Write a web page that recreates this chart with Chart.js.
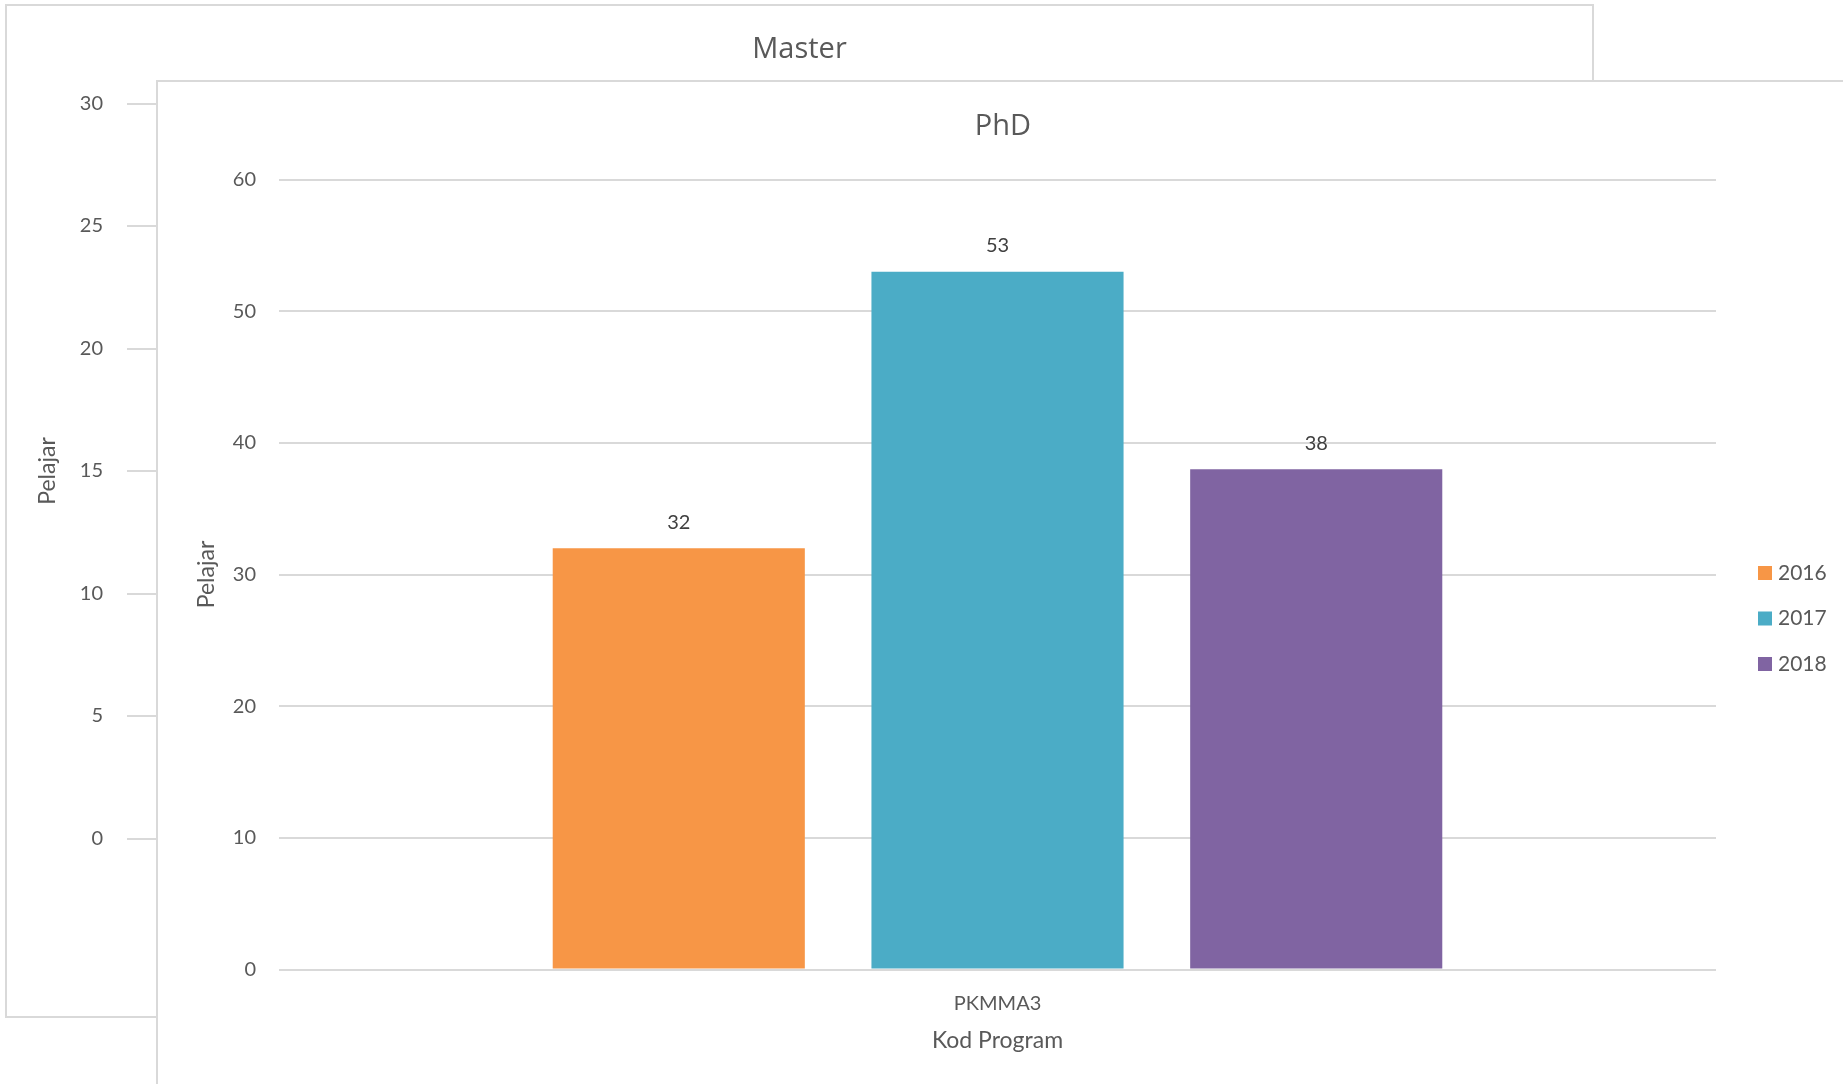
<!DOCTYPE html>
<html>
<head>
<meta charset="utf-8">
<script src="https://cdn.jsdelivr.net/npm/chart.js@4.4.1/dist/chart.umd.min.js"></script>
<style>
  html, body { margin: 0; padding: 0; background: #fff; overflow: hidden; width: 1843px; height: 1084px; }
  .panel { position: absolute; background: #fff; }
  #masterBox { left: 5px; top: 4px; border: 2px solid #d9d9d9; width: 1585px; height: 1010px; }
  #phdBox { left: 156px; top: 80px; border-left: 2px solid #d9d9d9; border-top: 2px solid #d9d9d9; width: 1690px; height: 1002px; }
  canvas { display: block; }
</style>
</head>
<body>
<div class="panel" id="masterBox"><canvas id="master" width="1585" height="1010"></canvas></div>
<div class="panel" id="phdBox"><canvas id="phd" width="1690" height="1002"></canvas></div>
<script>
// data
const programs = ['PKMMA3']
const years = ['2016', '2017', '2018']
const phd2016 = [32]
const phd2017 = [53]
const phd2018 = [38]
const masterTicks = [0, 5, 10, 15, 20, 25, 30]
const phdTicks = [0, 10, 20, 30, 40, 50, 60]

const yearColors = ['#F79646', '#4BACC6', '#8064A2']
const grey = '#595959'

Chart.defaults.font.family = 'Lato, "Open Sans", sans-serif'
Chart.defaults.color = grey

const titleFont = { family: '"Open Sans", Lato, sans-serif', size: 29, weight: 'normal' }

// value above each bar
const barLabels = {
    id: 'barLabels',
    afterDatasetsDraw(chart) {
        const ctx = chart.ctx
        ctx.save()
        ctx.font = '20px Lato'
        ctx.fillStyle = '#404040'
        ctx.textAlign = 'center'
        ctx.textBaseline = 'middle'
        chart.data.datasets.forEach((ds, i) => {
            chart.getDatasetMeta(i).data.forEach((bar, j) => {
                ctx.fillText(ds.data[j], bar.x, bar.y - 26)
            })
        })
        ctx.restore()
    }
}

// legend on the right, excel style
const sideLegend = {
    id: 'sideLegend',
    afterDraw(chart) {
        const ctx = chart.ctx
        ctx.save()
        ctx.font = '21px Lato'
        ctx.textBaseline = 'middle'
        chart.data.datasets.forEach((ds, i) => {
            const y = 491 + i * 45.5
            ctx.fillStyle = ds.backgroundColor
            ctx.fillRect(1600, y - 7, 14, 14)
            ctx.fillStyle = grey
            ctx.fillText(ds.label, 1620, y)
        })
        ctx.restore()
    }
}

// Master chart sits behind, only its top and y axis show
new Chart(document.getElementById('master'), {
    type: 'bar',
    data: { labels: programs, datasets: [] },
    options: {
        responsive: false,
        animation: false,
        layout: { padding: { bottom: 177.5 } },
        plugins: {
            legend: { display: false },
            tooltip: { enabled: false },
            title: { display: true, text: 'Master', color: grey, font: titleFont, padding: { top: 26.1, bottom: 36.6 } }
        },
        scales: {
            x: { display: false },
            y: {
                min: 0, max: 30,
                afterBuildTicks: s => { s.ticks = masterTicks.map(v => ({ value: v })) },
                afterFit: s => { s.width = 120 },
                border: { display: false },
                grid: { color: '#d9d9d9', lineWidth: 2, drawTicks: false },
                ticks: { padding: 24, font: { size: 20 }, color: grey },
                title: { display: true, text: 'Pelajar', color: grey, font: { size: 23 }, padding: { top: 26.7, bottom: 0 } }
            }
        }
    }
})

new Chart(document.getElementById('phd'), {
    type: 'bar',
    data: {
        labels: programs,
        datasets: [
            { label: years[0], data: phd2016, backgroundColor: yearColors[0] },
            { label: years[1], data: phd2017, backgroundColor: yearColors[1] },
            { label: years[2], data: phd2018, backgroundColor: yearColors[2] }
        ]
    },
    options: {
        responsive: false,
        animation: false,
        categoryPercentage: 0.6654,
        barPercentage: 0.791,
        plugins: {
            legend: { display: false },
            tooltip: { enabled: false },
            title: { display: true, text: 'PhD', color: grey, font: titleFont, padding: { top: 27.6, bottom: 35.1 } }
        },
        scales: {
            x: {
                afterFit: s => { s.height = 114.5 },
                border: { display: false },
                grid: { display: false },
                ticks: { padding: 14.5, font: { size: 20 }, color: grey },
                title: { display: true, text: 'Kod Program', color: grey, font: { size: 23 }, padding: { top: 0, bottom: 29.2 } }
            },
            y: {
                min: 0, max: 60,
                afterBuildTicks: s => { s.ticks = phdTicks.map(v => ({ value: v })) },
                afterFit: s => { s.width = 121 },
                border: { display: false },
                grid: { color: '#d9d9d9', lineWidth: 2, drawTicks: false },
                ticks: { padding: 23, font: { size: 20 }, color: grey },
                title: { display: true, text: 'Pelajar', color: grey, font: { size: 23 }, padding: { top: 35.2, bottom: 0 } }
            },
            // empty strip on the right that holds the legend
            legendSpace: {
                type: 'linear', position: 'right', min: 0, max: 1,
                afterFit: s => { s.width = 132 },
                border: { display: false },
                grid: { display: false },
                ticks: { display: false }
            }
        }
    },
    plugins: [barLabels, sideLegend]
})
</script>
</body>
</html>
